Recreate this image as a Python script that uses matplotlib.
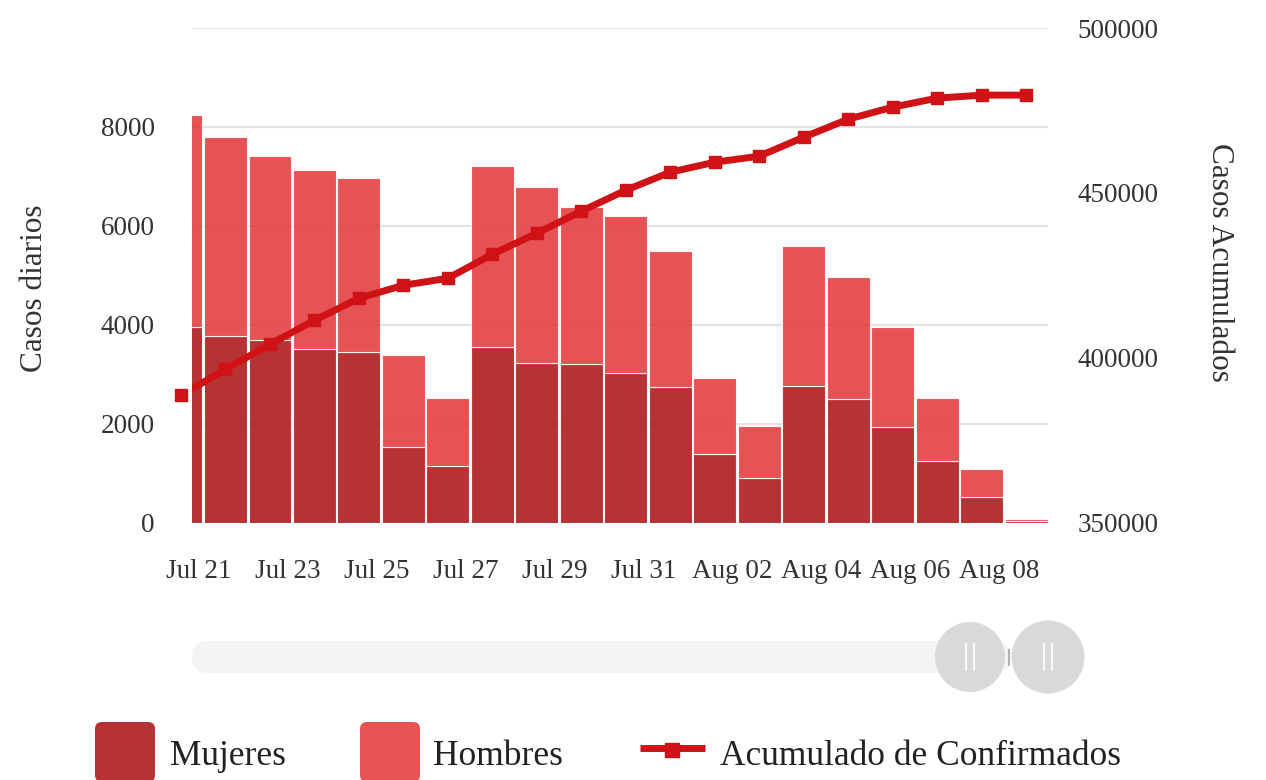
import numpy as np
import matplotlib
matplotlib.use("Agg")
import matplotlib.pyplot as plt
from matplotlib.patches import FancyBboxPatch, Circle
from matplotlib.ticker import FuncFormatter

plt.rcParams['font.family'] = ['Liberation Serif', 'DejaVu Serif']

# ---------------- data ----------------
dates = ["Jul 20", "Jul 21", "Jul 22", "Jul 23", "Jul 24", "Jul 25", "Jul 26",
         "Jul 27", "Jul 28", "Jul 29", "Jul 30", "Jul 31", "Aug 01", "Aug 02",
         "Aug 03", "Aug 04", "Aug 05", "Aug 06", "Aug 07", "Aug 08"]
mujeres = [3953, 3777, 3690, 3509, 3448, 1535, 1145, 3555, 3226, 3206,
           3024, 2741, 1388, 903, 2767, 2499, 1933, 1252, 525, 40]
hombres = [4283, 4020, 3717, 3615, 3521, 1853, 1374, 3650, 3561, 3177,
           3171, 2753, 1535, 1056, 2828, 2470, 2020, 1267, 560, 40]
acumulado = [388556, 396451, 404041, 411327, 418006, 421953, 424078, 431365,
             437740, 444420, 450795, 456260, 459296, 461118, 466886, 472351,
             475994, 478726, 479637, 479637]
tick_labels = ["Jul 21", "Jul 23", "Jul 25", "Jul 27", "Jul 29", "Jul 31",
               "Aug 02", "Aug 04", "Aug 06", "Aug 08"]
left_ticks = [0, 2000, 4000, 6000, 8000]
grid_vals = [0, 2000, 4000, 6000, 8000, 10000]
right_ticks = [350000, 400000, 450000, 500000]

C_MUJ = '#b01b1d'
C_HOM = '#e53f42'
C_LINE = '#d01115'
TXT = '#333333'

W, H = 1266, 780
fig = plt.figure(figsize=(W / 100, H / 100), dpi=100)

# overlay axes in pixel coordinates (navigator + legend)
ov = fig.add_axes([0, 0, 1, 1], zorder=-1)
ov.set_xlim(0, W)
ov.set_ylim(H, 0)
ov.axis('off')

left, right, top, bottom = 192, 1048, 28, 522.5
ax = fig.add_axes([left / W, 1 - bottom / H, (right - left) / W, (bottom - top) / H])
x = np.arange(len(dates))

for v in grid_vals:
    ax.axhline(v, color='#e3e3e3', lw=1.5, zorder=1)

ax.bar(x, mujeres, width=0.96, color=C_MUJ, alpha=0.9, edgecolor='white',
       linewidth=0.8, zorder=2)
ax.bar(x, hombres, bottom=mujeres, width=0.96, color=C_HOM, alpha=0.9,
       edgecolor='white', linewidth=0.8, zorder=2)

ax.set_xlim(0.25, 19.49)
ax.set_ylim(0, 10000)
ax.set_yticks(left_ticks)
ax.yaxis.set_major_formatter(FuncFormatter(lambda v, p: f"{int(v)}"))
ax.set_xticks([dates.index(l) - 0.6 for l in tick_labels])
ax.set_xticklabels(tick_labels)
ax.tick_params(axis='x', length=0, pad=26, labelsize=19.5, colors=TXT)
ax.tick_params(axis='y', length=0, pad=27, labelsize=19.5, colors=TXT)
for s in ax.spines.values():
    s.set_visible(False)

ax2 = ax.twinx()
ax2.set_ylim(350000, 500000)
ax2.set_yticks(right_ticks)
ax2.yaxis.set_major_formatter(FuncFormatter(lambda v, p: f"{int(v)}"))
ax2.tick_params(axis='y', length=0, pad=21, labelsize=19.5, colors=TXT)
for s in ax2.spines.values():
    s.set_visible(False)
ax2.plot(x, acumulado, color=C_LINE, lw=5, zorder=3, solid_joinstyle='round')
ax2.plot(x, acumulado, ls='none', marker='s', ms=9, color=C_LINE,
         clip_on=False, zorder=4)

fig.text(35 / W, 1 - 288 / H, 'Casos diarios', rotation=90, ha='center',
         va='center', fontsize=22.5, color=TXT)
fig.text(1220 / W, 1 - 262 / H, 'Casos Acumulados', rotation=270, ha='center',
         va='center', fontsize=22.5, color=TXT)

# navigator
ov.add_patch(FancyBboxPatch((192, 641), 818, 32,
                            boxstyle='round,pad=0,rounding_size=16',
                            facecolor='#f4f4f4', edgecolor='none'))
for cx, r in [(970, 35), (1048, 36.5)]:
    ov.add_patch(Circle((cx, 657), r, facecolor='#d9d9d9', edgecolor='none'))
    for dx in (-4, 4):
        ov.plot([cx + dx, cx + dx], [644, 670], color='white', lw=1.2)
ov.plot([1009, 1009], [650, 665], color='#b0b0b0', lw=1.5)

# legend
ov.add_patch(FancyBboxPatch((95, 722), 60, 60,
                            boxstyle='round,pad=0,rounding_size=7',
                            facecolor=C_MUJ, alpha=0.9, edgecolor='none'))
ov.text(170, 765, 'Mujeres', fontsize=25.5, color='#222222', va='baseline', ha='left')
ov.add_patch(FancyBboxPatch((360, 722), 60, 60,
                            boxstyle='round,pad=0,rounding_size=7',
                            facecolor=C_HOM, alpha=0.9, edgecolor='none'))
ov.text(433, 765, 'Hombres', fontsize=25.5, color='#222222', va='baseline', ha='left')
ov.plot([640, 705], [748, 748], color=C_LINE, lw=5, solid_capstyle='butt')
ov.plot([672], [750], marker='s', ms=10, color=C_LINE, ls='none')
ov.text(720, 765, 'Acumulado de Confirmados', fontsize=25.5, color='#222222',
        va='baseline', ha='left')

fig.savefig('out.png', dpi=100)
